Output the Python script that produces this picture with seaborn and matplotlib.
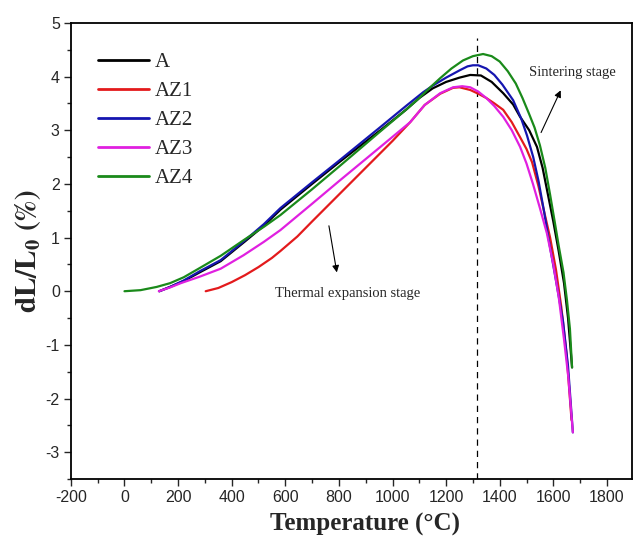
import matplotlib
matplotlib.use("Agg")
import matplotlib.pyplot as plt
import seaborn as sns
import pandas as pd
import numpy as np

# ---- data ----
labels = ["A", "AZ1", "AZ2", "AZ3", "AZ4"]
colors = ["#000000", "#e31a1c", "#1515b0", "#e020e0", "#1a8a1a"]

t_A = [130, 170, 221, 280, 359, 450, 520, 582, 700, 800, 955, 1050, 1100, 1150, 1200, 1250, 1290,
       1330, 1370, 1413, 1450, 1476, 1510, 1539, 1560, 1580, 1600, 1620, 1640, 1655, 1670]
v_A = [0.0, 0.08, 0.19, 0.35, 0.56, 0.93, 1.22, 1.52, 2.00, 2.40, 3.00, 3.38, 3.60, 3.78, 3.90, 3.98, 4.03,
       4.02, 3.90, 3.69, 3.48, 3.25, 3.00, 2.69, 2.30, 1.80, 1.30, 0.75, 0.15, -0.50, -1.42]

t_AZ1 = [303, 350, 400, 450, 500, 550, 582, 645, 700, 800, 900, 1000, 1066, 1120, 1178, 1226, 1250,
         1290, 1320, 1350, 1380, 1413, 1445, 1476, 1500, 1521, 1545, 1565, 1588, 1610, 1630, 1650, 1668]
v_AZ1 = [0.0, 0.06, 0.17, 0.30, 0.45, 0.62, 0.75, 1.02, 1.30, 1.80, 2.30, 2.80, 3.15, 3.47, 3.68, 3.79, 3.80,
         3.75, 3.68, 3.60, 3.50, 3.38, 3.15, 2.87, 2.65, 2.40, 1.95, 1.50, 1.00, 0.40, -0.30, -1.20, -2.40]

t_AZ2 = [130, 170, 221, 280, 359, 450, 520, 582, 700, 800, 955, 1050, 1115, 1150, 1200, 1252, 1280, 1300,
         1320, 1350, 1380, 1410, 1450, 1480, 1502, 1525, 1545, 1565, 1585, 1610, 1636, 1655, 1673]
v_AZ2 = [0.0, 0.08, 0.20, 0.37, 0.58, 0.95, 1.25, 1.55, 2.03, 2.43, 3.06, 3.45, 3.71, 3.83, 3.98, 4.12, 4.19, 4.21,
         4.21, 4.15, 4.03, 3.85, 3.56, 3.22, 2.90, 2.50, 2.05, 1.50, 0.90, 0.20, -0.55, -1.40, -2.63]

t_AZ3 = [128, 170, 210, 280, 359, 444, 520, 582, 700, 800, 955, 1066, 1120, 1178, 1226, 1260, 1290,
         1320, 1350, 1380, 1413, 1445, 1476, 1500, 1524, 1550, 1576, 1600, 1620, 1640, 1656, 1673]
v_AZ3 = [0.0, 0.07, 0.15, 0.27, 0.42, 0.67, 0.92, 1.14, 1.63, 2.05, 2.69, 3.15, 3.47, 3.69, 3.80, 3.82, 3.80,
         3.72, 3.60, 3.45, 3.25, 3.00, 2.69, 2.38, 2.00, 1.55, 1.08, 0.50, -0.10, -0.90, -1.60, -2.63]

t_AZ4 = [0, 60, 120, 170, 221, 280, 359, 450, 520, 582, 700, 800, 955, 1050, 1100, 1141, 1178, 1220, 1263,
         1300, 1338, 1370, 1400, 1430, 1460, 1485, 1510, 1530, 1550, 1570, 1588, 1605, 1620, 1638, 1651, 1662, 1670]
v_AZ4 = [0.0, 0.02, 0.08, 0.15, 0.26, 0.43, 0.66, 0.97, 1.20, 1.42, 1.90, 2.32, 2.98, 3.38, 3.60, 3.80, 3.97, 4.15, 4.30,
         4.38, 4.42, 4.38, 4.28, 4.10, 3.87, 3.60, 3.30, 3.05, 2.72, 2.30, 1.80, 1.30, 0.85, 0.35, -0.17, -0.70, -1.42]

series_t = [t_A, t_AZ1, t_AZ2, t_AZ3, t_AZ4]
series_v = [v_A, v_AZ1, v_AZ2, v_AZ3, v_AZ4]

x_ticks = [-200, 0, 200, 400, 600, 800, 1000, 1200, 1400, 1600, 1800]
y_ticks = [-3, -2, -1, 0, 1, 2, 3, 4, 5]
peak_T = 1315

# ---- style ----
sns.set_style("ticks")
plt.rcParams["font.family"] = ["Liberation Sans", "DejaVu Sans"]
plt.rcParams["mathtext.fontset"] = "stix"
plt.rcParams["axes.unicode_minus"] = False

fig = plt.figure(figsize=(6.33, 5.45), dpi=100)
ax = fig.add_axes([0.112, 0.121, 0.887, 0.837])

rows = []
for lab, ts, vs in zip(labels, series_t, series_v):
    for t, v in zip(ts, vs):
        rows.append({"T": t, "v": v, "series": lab})
df = pd.DataFrame(rows)

sns.lineplot(data=df, x="T", y="v", hue="series", palette=dict(zip(labels, colors)),
             hue_order=labels, sort=False, estimator=None, linewidth=1.6, ax=ax)

ax.plot([peak_T, peak_T], [-3.5, 4.72], color="black", linewidth=0.9,
        linestyle=(0, (5, 4)), zorder=1)

ax.set_xlim(-200, 1895)
ax.set_ylim(-3.5, 5)
ax.set_xticks(x_ticks)
ax.set_yticks(y_ticks)
ax.set_xticks(np.arange(-200, 1900, 100), minor=True)
ax.set_yticks(np.arange(-3.5, 5.01, 0.5), minor=True)
ax.tick_params(which="major", direction="out", length=5, width=1, labelsize=11.5, pad=3)
ax.tick_params(which="minor", direction="out", length=3, width=1)
ax.tick_params(top=False, right=False, which="both")
for s in ax.spines.values():
    s.set_visible(True)
    s.set_linewidth(1.3)
    s.set_color("black")

ax.set_xlabel("Temperature (°C)", fontfamily="Liberation Serif", fontweight="bold",
              fontsize=18)
ax.xaxis.set_label_coords(0.524, -0.074)
ax.set_ylabel(r"$\mathbf{dL/L_0\ (\%)}$", fontsize=21, labelpad=2)

leg = ax.legend(loc="upper left", bbox_to_anchor=(0.048, 0.935), frameon=False,
                prop={"family": "Liberation Serif", "size": 15},
                handlelength=2.45, handletextpad=0.3, labelspacing=0.45,
                borderaxespad=0, borderpad=0)
for h in leg.get_lines():
    h.set_linewidth(2.0)

ax.annotate("", xy=(1632, 3.79), xytext=(1550, 2.91),
            arrowprops=dict(arrowstyle="-|>", color="black", lw=0.8,
                            mutation_scale=10))
ax.text(1670, 4.07, "Sintering stage", fontfamily="Liberation Serif", fontsize=10.5,
        ha="center", va="center")

ax.annotate("", xy=(794, 0.30), xytext=(761, 1.27),
            arrowprops=dict(arrowstyle="-|>", color="black", lw=0.8,
                            mutation_scale=10))
ax.text(832, -0.04, "Thermal expansion stage", fontfamily="Liberation Serif", fontsize=10.5,
        ha="center", va="center")

fig.savefig("out.png", dpi=100)
